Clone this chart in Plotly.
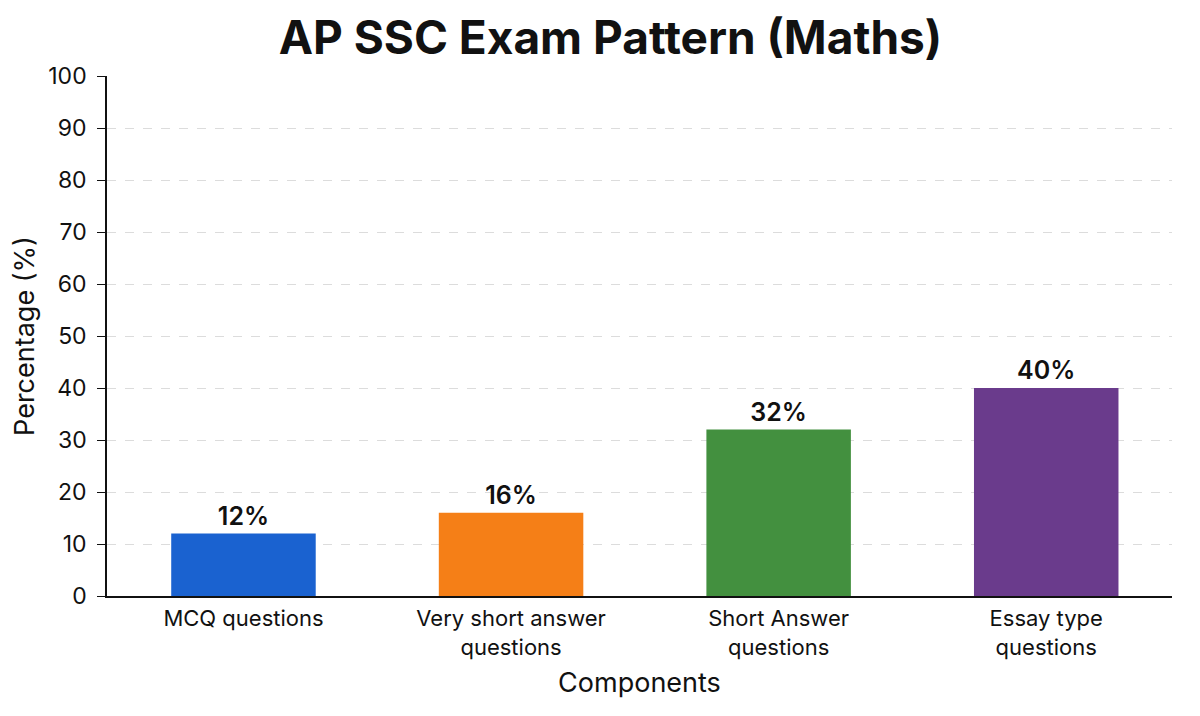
import plotly.graph_objects as go

categories = ["MCQ questions", "Very short answer<br>questions", "Short Answer<br>questions", "Essay type<br>questions"]
values = [12, 16, 32, 40]
labels = ["12%", "16%", "32%", "40%"]
colors = ["#1a62d0", "#f57f17", "#43903f", "#6a3b8c"]
yticks = [0, 10, 20, 30, 40, 50, 60, 70, 80, 90, 100]

fig = go.Figure(go.Bar(
    x=categories, y=values, text=labels, textposition="outside",
    textfont=dict(size=25, color="#111", family="Inter", weight=600),
    marker=dict(color=colors, line=dict(width=0)),
    width=0.54, cliponaxis=False,
))

fig.update_layout(
    width=1200, height=716,
    margin=dict(l=99, r=36, t=68, b=128),
    paper_bgcolor="white", plot_bgcolor="white",
    font=dict(family="Inter", color="#111"),
    title=dict(text="AP SSC Exam Pattern (Maths)", x=0.502, xanchor="center",
               y=0.958, yanchor="middle", font=dict(size=46, color="#111", weight=700)),
    showlegend=False,
)
fig.update_yaxes(
    range=[0, 100], tickvals=yticks, ticks="outside", ticklen=8, tickcolor="#111",
    showline=True, linecolor="#111", linewidth=1.5,
    showgrid=True, gridcolor="#dcdcdc", griddash="dash", gridwidth=1,
    tickfont=dict(size=23), zeroline=False, ticklabelstandoff=6,
    title=dict(text="Percentage (%)", font=dict(size=27), standoff=10),
)
fig.update_xaxes(
    range=[-0.51, 3.47], showline=True, linecolor="#111", linewidth=1.5,
    ticks="", tickfont=dict(size=22), ticklabelstandoff=2,
    title=dict(text="Components", font=dict(size=27), standoff=14),
)

fig.write_html("out.html")
